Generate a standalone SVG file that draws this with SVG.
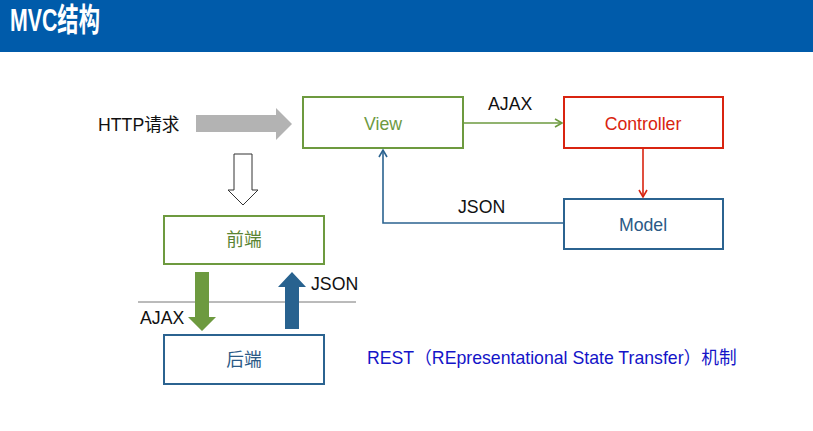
<svg xmlns="http://www.w3.org/2000/svg" width="813" height="431" viewBox="0 0 813 431">
<style>
text{font-family:"Liberation Sans","Noto Sans CJK SC",sans-serif;font-size:17.7px}
.box{fill:#fff;stroke-width:2}
.g{stroke:#6D9A3F}
.r{stroke:#D92410}
.b{stroke:#2B6390}
.lbl{fill:#111}
</style>
<defs>
<marker id="ag" markerWidth="10" markerHeight="10" refX="8" refY="5" orient="auto" markerUnits="userSpaceOnUse"><path d="M1,1 L8,5 L1,9" fill="none" stroke="#6D9A3F" stroke-width="1.6"/></marker>
<marker id="ar" markerWidth="10" markerHeight="10" refX="8" refY="5" orient="auto" markerUnits="userSpaceOnUse"><path d="M1,1 L8,5 L1,9" fill="none" stroke="#D92410" stroke-width="1.6"/></marker>
<marker id="ab" markerWidth="10" markerHeight="10" refX="8" refY="5" orient="auto" markerUnits="userSpaceOnUse"><path d="M1,1 L8,5 L1,9" fill="none" stroke="#2B6390" stroke-width="1.6"/></marker>
</defs>
<rect width="813" height="431" fill="#fff"/>
<g id="header">
<rect x="0" y="0" width="813" height="52" fill="#005BAA"/>
<text x="10" y="31" fill="#fff" style="font-size:32px;font-weight:bold" textLength="90" lengthAdjust="spacingAndGlyphs">MVC结构</text>
</g>
<g id="http">
<text x="98" y="131" class="lbl">HTTP请求</text>
<path d="M196,115 H276 V108 L292,124 L276,140 V132 H196 Z" fill="#B3B3B3"/>
</g>
<g id="downarrow">
<path d="M234,154 H252 V190 H258 L243,205 L228,190 H234 Z" fill="#fff" stroke="#333" stroke-width="1"/>
</g>
<g id="view">
<rect class="box g" x="303" y="97" width="160" height="51"/>
<text x="383" y="130" text-anchor="middle" fill="#6D9A3F">View</text>
</g>
<g id="controller">
<rect class="box r" x="564" y="97" width="159" height="51"/>
<text x="643" y="130" text-anchor="middle" fill="#D92410">Controller</text>
</g>
<g id="model">
<rect class="box b" x="564" y="199" width="159" height="50"/>
<text x="643" y="231" text-anchor="middle" fill="#2B5A86">Model</text>
</g>
<g id="frontend">
<rect class="box g" x="164" y="216" width="160" height="48"/>
<text x="244" y="246" text-anchor="middle" fill="#5A8432">前端</text>
</g>
<g id="backend">
<rect class="box b" x="164" y="335" width="160" height="49"/>
<text x="244" y="366" text-anchor="middle" fill="#2B5A86">后端</text>
</g>
<g id="connectors" fill="none">
<line x1="464" y1="123" x2="562" y2="123" stroke="#6D9A3F" stroke-width="1.6" marker-end="url(#ag)"/>
<line x1="643" y1="149" x2="643" y2="197" stroke="#D92410" stroke-width="1.6" marker-end="url(#ar)"/>
<polyline points="563,223 383,223 383,150" stroke="#2B6390" stroke-width="1.6" marker-end="url(#ab)"/>
<line x1="138" y1="302" x2="356" y2="302" stroke="#777" stroke-width="1"/>
<path d="M195,272 H209 V317 H216 L202,331 L188,317 H195 Z" fill="#6D9A3F"/>
<path d="M285,329 V287 H278 L292,272 L306,287 H299 V329 Z" fill="#28628F"/>
</g>
<g id="labels">
<text x="488" y="110" class="lbl">AJAX</text>
<text x="458" y="213" class="lbl">JSON</text>
<text x="140" y="324" class="lbl">AJAX</text>
<text x="311" y="290" class="lbl">JSON</text>
<text x="367" y="364" fill="#1414C8">REST（REpresentational State Transfer）机制</text>
</g>
</svg>
